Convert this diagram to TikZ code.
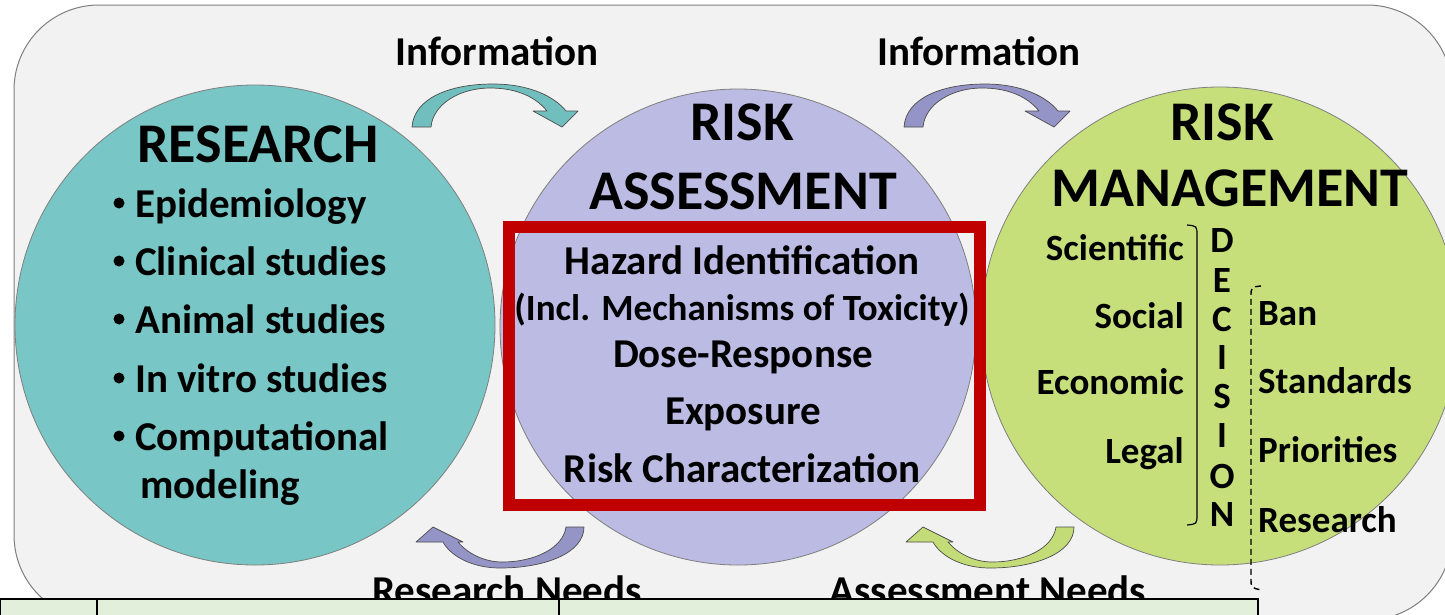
\documentclass[tikz,border=0pt]{standalone}
\usepackage{fontspec}
\setmainfont{Carlito}
\usetikzlibrary{positioning}
\definecolor{BackGray}{HTML}{F2F2F2}
\definecolor{EdgeGray}{HTML}{7F7F7F}
\definecolor{ResTeal}{HTML}{78C6C5}
\definecolor{AssLilac}{HTML}{BBBBE3}
\definecolor{ManGreen}{HTML}{C6DF7B}
\definecolor{ArrTeal}{HTML}{70BFBE}
\definecolor{ArrLilac}{HTML}{9494C6}
\definecolor{ArrGreen}{HTML}{C3DC78}
\definecolor{BoxRed}{HTML}{C00000}
\definecolor{TabGreen}{HTML}{E2EFDA}
\newcommand{\txtsize}[1]{\fontsize{#1}{#1}\selectfont}

\begin{document}
\begin{tikzpicture}[x=1pt, y=-1pt,
  blob/.style={circle, draw=EdgeGray, line width=0.8pt, inner sep=0pt},
  big/.style={font=\bfseries\txtsize{56}, inner sep=0pt, anchor=base},
  mid/.style={font=\bfseries\txtsize{41}, inner sep=0pt, anchor=base},
  small/.style={font=\bfseries\txtsize{37}, inner sep=0pt, anchor=base},
  bullet/.style={circle, fill=black, inner sep=0pt, minimum size=11pt},
  flowarrow/.style={draw=black!70, line width=0.7pt, line join=round}]
  \useasboundingbox (0,0) rectangle (1445,614);
  \clip (0,0) rectangle (1445,614);

  % background panel
  \draw[fill=BackGray, draw=EdgeGray, line width=1pt, rounded corners=85]
    (14,5) rectangle (1452,620);

  % the three circles
  \node[blob, fill=ResTeal, minimum size=480pt] (research) at (255,325) {};
  \node[blob, fill=AssLilac, minimum size=476pt] (assess) at (738,327) {};
  \node[blob, fill=ManGreen, minimum size=478pt] (manage) at (1220,326) {};

  % curved arrows on top
  \foreach \dx/\col in {0/ArrTeal, 492/ArrLilac}{%
    \filldraw[flowarrow, fill=\col, shift={(\dx,0)}]
      (412,127) .. controls (414,98) and (450,84) .. (493,84)
      .. controls (530,84) and (555,97) .. (566,111)
      -- (578,111) -- (562,127) -- (533,111) -- (547,111)
      .. controls (535,96) and (515,88) .. (490,88)
      .. controls (460,88) and (433,104) .. (431,127) -- cycle;
  }
  % curved arrows below
  \foreach \dx/\col in {0/ArrLilac, 490/ArrGreen}{%
    \filldraw[flowarrow, fill=\col, shift={(\dx,0)}]
      (584,527) .. controls (584,553) and (545,568) .. (500,568)
      .. controls (475,568) and (452,558) .. (443,542)
      -- (416,542) -- (433,527) -- (463,542) -- (458,542)
      .. controls (468,554) and (485,562) .. (502,562)
      .. controls (535,562) and (563,548) .. (566,527) -- cycle;
  }

  \node[mid] (info1) at (497,65) {Information};
  \node[mid] (info2) at (979,65) {Information};
  \node[mid] (needs1) at (507,604) {Research Needs};
  \node[mid] (needs2) at (988,604) {Assessment Needs};

  % research
  \node[big] (restitle) at (258,162) {RESEARCH};
  \foreach \y/\t in {217/Epidemiology, 275/Clinical studies, 333/Animal studies,
                     392/In vitro studies, 450/Computational}{%
    \node[bullet] (dot\y) at (119,\y-14) {};
    \node[mid, anchor=base west] (item\y) at (135,\y) {\t};
  }
  \node[mid, anchor=base west] (item498) at (140,498) {modeling};

  % assessment
  \node[big] (asstitle1) at (742,140) {RISK};
  \node[big] (asstitle2) at (743,209) {ASSESSMENT};
  \node[draw=BoxRed, line width=12pt, inner sep=0pt,
        minimum width=471pt, minimum height=278pt] (steps) at (744.5,366) {};
  \node[mid] (step1) at (742,274) {Hazard Identification};
  \node[small] (step1b) at (742,320) {(Incl. Mechanisms of Toxicity)};
  \node[mid] (step2) at (743,367) {Dose-Response};
  \node[mid] (step3) at (743,424) {Exposure};
  \node[mid] (step4) at (742,482) {Risk Characterization};

  % management
  \node[big] (mantitle1) at (1222,140) {RISK};
  \node[big] (mantitle2) at (1230,206) {MANAGEMENT};
  \foreach \y/\t in {260/Scientific, 328/Social, 394/Economic, 463/Legal}{%
    \node[small, anchor=base east] (factor\y) at (1184,\y) {\t};
  }
  \foreach \l/\y in {D/252, E/292, C/331, I/369, S/408, I/447, O/488, N/526}{%
    \node[small] (dec\y) at (1222,\y) {\l};
  }
  \foreach \y/\t in {325/Ban, 393/Standards, 462/Priorities, 532/Research}{%
    \node[small, anchor=base west] (action\y) at (1258,\y) {\t};
  }
  \draw[line width=1.2pt] (1187,225) .. controls (1197,226) .. (1197,236)
    -- (1197,514) .. controls (1197,524) .. (1187,525);
  \draw[line width=1.4pt, dash pattern=on 6pt off 4pt]
    (1261,286) .. controls (1251,287) .. (1251,297)
    -- (1251,578) .. controls (1251,588) .. (1262,590);

  % table strip at the bottom
  \draw[fill=TabGreen, line width=1.5pt] (0,599) rectangle (1258,640);
  \draw[line width=1.5pt] (97,599) -- (97,640) (559,599) -- (559,640);
\end{tikzpicture}
\end{document}
